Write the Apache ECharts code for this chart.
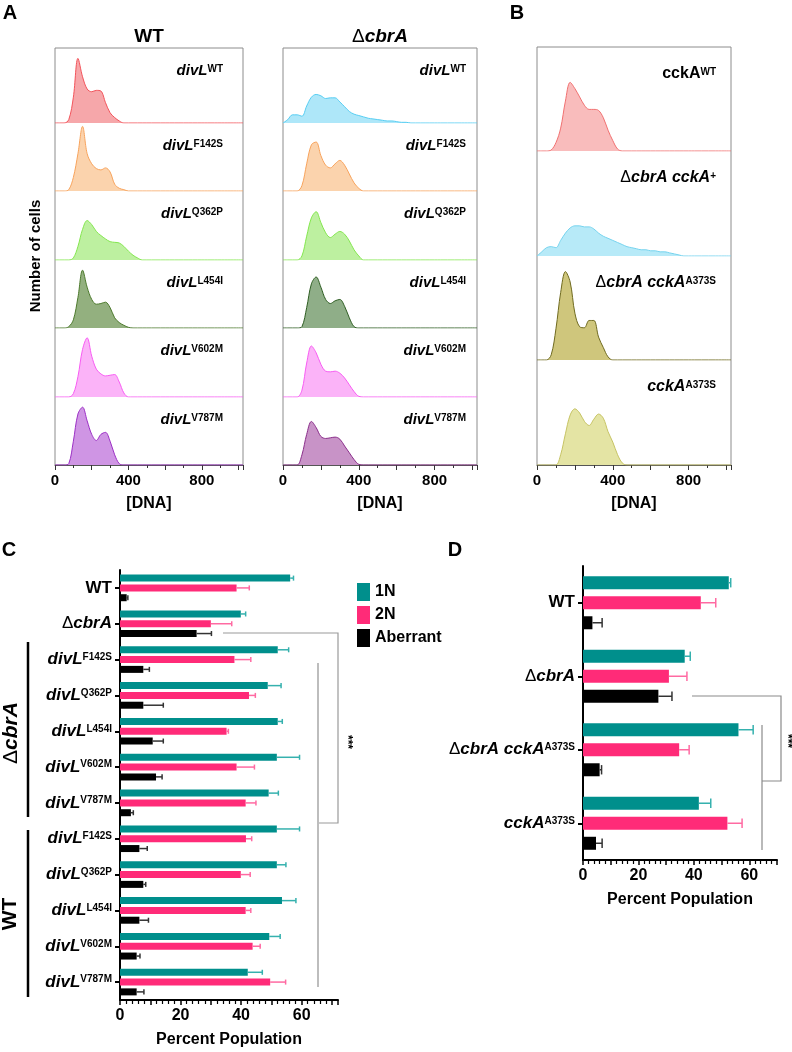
<!DOCTYPE html>
<html lang="en">
<head>
<meta charset="UTF-8">
<script src="https://cdn.jsdelivr.net/npm/echarts@6/dist/echarts.min.js"></script>
<style>
  body { margin: 0; background: #fff; }
  #chart { width: 792px; height: 1052px; }
</style>
</head>
<body>
<div id="chart"></div>
<script>
// ---------- flow cytometry histograms (relative cell counts, % of row height) ----------
const dnaBins = [0,25,50,75,100,125,150,175,200,225,250,275,300,325,350,375,400,425,450,475,500,525,550,575,600,625,650,675,700,725,750,775,800,1024];

// panel A, WT background
const wtDivWT   = [0,0,0,5,38,95,68,50,46,48, 47,30,15,8,3,0,0,0,0,0, 0,0,0,0,0,0,0,0,0,0, 0,0,0,0];
const wtF142S   = [0,0,0,2,20,55,95,55,40,33, 31,34,28,10,4,2,0,0,0,0, 0,0,0,0,0,0,0,0,0,0, 0,0,0,0];
const wtQ362P   = [0,0,0,0,3,20,45,58,52,42, 36,31,27,26,25,20,13,7,3,0, 0,0,0,0,0,0,0,0,0,0, 0,0,0,0];
const wtL454I   = [0,0,0,2,12,45,85,60,42,35, 36,38,30,15,8,4,1,0,0,0, 0,0,0,0,0,0,0,0,0,0, 0,0,0,0];
const wtV602M   = [0,0,0,0,5,30,70,87,60,41, 34,31,32,33,22,6,0,0,0,0, 0,0,0,0,0,0,0,0,0,0, 0,0,0,0];
const wtV787M   = [0,0,0,2,35,75,85,65,45,36, 45,48,35,15,2,0,0,0,0,0, 0,0,0,0,0,0,0,0,0,0, 0,0,0,0];

// panel A, ΔcbrA background
const dDivWT    = [0,5,12,12,10,25,38,42,40,36, 37,37,31,24,17,13,11,9,7,6, 5,4,3,3,2,1,1,0,0,0, 0,0,0,0];
const dF142S    = [0,0,0,0,8,40,68,72,52,38, 34,40,45,38,25,12,4,0,0,0, 0,0,0,0,0,0,0,0,0,0, 0,0,0,0];
const dQ362P    = [0,0,0,0,6,35,62,71,55,40, 33,38,42,38,28,15,6,0,0,0, 0,0,0,0,0,0,0,0,0,0, 0,0,0,0];
const dL454I    = [0,0,0,0,2,30,65,75,60,42, 36,40,42,32,15,2,0,0,0,0, 0,0,0,0,0,0,0,0,0,0, 0,0,0,0];
const dV602M    = [0,0,0,0,10,50,75,65,48,38, 37,38,35,28,18,8,1,0,0,0, 0,0,0,0,0,0,0,0,0,0, 0,0,0,0];
const dV787M    = [0,0,0,0,15,45,64,55,42,39, 40,41,38,28,18,8,1,0,0,0, 0,0,0,0,0,0,0,0,0,0, 0,0,0,0];

// panel B
const bCckWT       = [0,0,0,1,8,22,48,66,60,52, 44,40,40,39,32,20,10,2,0,0, 0,0,0,0,0,0,0,0,0,0, 0,0,0,0];
const bDeltaPlus   = [0,4,8,9,8,15,22,27,29,29, 28,28,26,22,19,17,15,13,11,9, 8,7,6,6,5,5,4,4,3,2, 1,0,0,0];
const bDeltaA373S  = [0,0,0,5,30,65,85,75,45,32, 31,38,38,22,12,3,0,0,0,0, 0,0,0,0,0,0,0,0,0,0, 0,0,0,0];
const bA373S       = [0,0,0,0,0,10,30,48,54,50, 42,38,44,49,45,32,22,10,2,0, 0,0,0,0,0,0,0,0,0,0, 0,0,0,0];

const histLabelsA = ['divL^WT', 'divL^F142S', 'divL^Q362P', 'divL^L454I', 'divL^V602M', 'divL^V787M'];
const histLabelsB = ['cckA^WT', 'ΔcbrA cckA^+', 'ΔcbrA cckA^A373S', 'cckA^A373S'];
const dnaTicks = [0, 400, 800];

// ---------- panel C ----------
const cCategories = ['WT', 'ΔcbrA',
  'ΔcbrA divL^F142S', 'ΔcbrA divL^Q362P', 'ΔcbrA divL^L454I', 'ΔcbrA divL^V602M', 'ΔcbrA divL^V787M',
  'WT divL^F142S', 'WT divL^Q362P', 'WT divL^L454I', 'WT divL^V602M', 'WT divL^V787M'];
const c1N      = [56.2, 39.9, 52.1, 48.8, 52.1, 51.8, 49.1, 51.8, 51.8, 53.5, 49.3, 42.2];
const c1NErr   = [1.1, 1.6, 3.6, 4.4, 1.5, 7.5, 3.2, 7.5, 3.0, 4.6, 3.6, 4.8];
const c2N      = [38.5, 30.0, 37.8, 42.6, 35.2, 38.5, 41.5, 41.6, 39.9, 41.5, 43.8, 49.6];
const c2NErr   = [4.2, 6.9, 5.4, 2.1, 0.6, 5.9, 3.4, 1.9, 3.1, 1.7, 2.5, 5.1];
const cAb      = [2.2, 25.3, 7.7, 7.7, 10.8, 11.9, 3.6, 6.4, 7.7, 6.4, 5.5, 5.5];
const cAbErr   = [0.4, 4.9, 2.0, 6.6, 3.5, 2.0, 0.8, 2.6, 0.8, 3.0, 1.1, 2.4];

// ---------- panel D ----------
const dCategories = ['WT', 'ΔcbrA', 'ΔcbrA cckA^A373S', 'cckA^A373S'];
const d1N      = [52.6, 36.7, 56.1, 41.8];
const d1NErr   = [0.7, 2.0, 5.3, 4.3];
const d2N      = [42.5, 31.0, 34.7, 52.1];
const d2NErr   = [5.4, 6.5, 3.6, 5.3];
const dAb      = [3.4, 27.2, 6.0, 4.7];
const dAbErr   = [3.5, 4.9, 0.7, 2.2];

const FONT = 'Liberation Sans, Arial, Helvetica, sans-serif';
const TEAL = '#008f8c', PINK = '#ff2b78', BLACK = '#000';
const ERR_COLORS = ['#35b1ae', '#ff6aa2', '#333'];

function richStyles(size, sup) {
  return {
    b: { fontFamily: FONT, fontSize: size, fontWeight: 'bold', color: '#000', lineHeight: size + 4 },
    i: { fontFamily: FONT, fontSize: size, fontWeight: 'bold', fontStyle: 'italic', color: '#000', lineHeight: size + 4 },
    d: { fontFamily: FONT, fontSize: size, color: '#000', lineHeight: size + 4 },
    s: { fontFamily: FONT, fontSize: sup, fontWeight: 'bold', color: '#000', verticalAlign: 'top', padding: [3, 0, 0, 0] }
  };
}

// 'divL^F142S' -> rich text with italic gene name and superscript allele
function richLabel(s, upright) {
  const parts = s.split('^');
  let main = parts[0], out = '';
  if (main === 'WT') out = '{b|WT}';
  else {
    if (main[0] === 'Δ') { out += '{d|Δ}'; main = main.slice(1); }
    out += (upright ? '{b|' : '{i|') + main + '}';
  }
  if (parts[1]) out += '{s|' + parts[1] + '}';
  return out;
}

const histPanels = [
  { left: 55, width: 188, bounds: [48, 123, 191, 260, 328, 397, 465], rowH: 68,
    labelX: 223, labelDy: 23, labelSize: 15, labels: histLabelsA, upright: [],
    data: [wtDivWT, wtF142S, wtQ362P, wtL454I, wtV602M, wtV787M],
    lines: ['#f2545b', '#f7a35c', '#83e64e', '#4d7a2d', '#f75cf2', '#9b2fc4'],
    fills: ['#f6a7aa', '#fbd3ad', '#bdf0a0', '#93b07f', '#fbb3f8', '#cf95e4'] },
  { left: 283, width: 194, bounds: [48, 123, 191, 260, 328, 397, 465], rowH: 68,
    labelX: 466, labelDy: 23, labelSize: 15, labels: histLabelsA, upright: [],
    data: [dDivWT, dF142S, dQ362P, dL454I, dV602M, dV787M],
    lines: ['#56cdf2', '#f7a35c', '#83e64e', '#2f5e23', '#f75cf2', '#8a2e8a'],
    fills: ['#aee7f9', '#fbd3ad', '#bdf0a0', '#8fae88', '#fbb3f8', '#c893c7'] },
  { left: 537, width: 194, bounds: [47, 151, 256, 360, 465], rowH: 104,
    labelX: 716, labelDy: 27, labelSize: 16, labels: histLabelsB, upright: [true, false, false, false],
    data: [bCckWT, bDeltaPlus, bDeltaA373S, bA373S],
    lines: ['#f07070', '#76d3ee', '#6f6a1f', '#c6c364'],
    fills: ['#f9bcbc', '#b7eaf8', '#cfc67c', '#e4e4a4'] }
];

const grids = [], xAxes = [], yAxes = [], series = [], graphics = [];

histPanels.forEach(p => {
  const g = grids.length;
  const top = p.bounds[0], bottom = p.bounds[p.bounds.length - 1];
  grids.push({ left: p.left, top: top, width: p.width, height: bottom - top, show: true,
    borderColor: '#8c8c8c', borderWidth: 1, outerBoundsMode: 'none' });
  xAxes.push({ gridIndex: g, type: 'value', min: 0, max: 1024, interval: 200,
    axisLine: { show: true, lineStyle: { color: '#555', width: 1 } },
    axisTick: { show: true, length: 5, lineStyle: { color: '#333' } },
    minorTick: { show: true, splitNumber: 2, length: 3, lineStyle: { color: '#333' } },
    splitLine: { show: false },
    axisLabel: { formatter: v => dnaTicks.includes(v) ? String(v) : '', fontFamily: FONT,
      fontSize: 15, fontWeight: 'bold', color: '#000', margin: 8 },
    name: '[DNA]', nameLocation: 'middle', nameGap: 31,
    nameTextStyle: { fontFamily: FONT, fontSize: 16, fontWeight: 'bold', color: '#000' } });
  yAxes.push({ gridIndex: g, type: 'value', show: false });

  p.data.forEach((vals, r) => {
    const gi = grids.length;
    const rowBottom = p.bounds[r + 1];
    grids.push({ left: p.left, top: rowBottom - p.rowH, width: p.width, height: p.rowH, show: false, outerBoundsMode: 'none' });
    xAxes.push({ gridIndex: gi, type: 'value', min: 0, max: 1024, show: false });
    yAxes.push({ gridIndex: gi, type: 'value', min: 0, max: 100, show: false });
    series.push({ type: 'line', xAxisIndex: gi, yAxisIndex: gi, silent: true,
      data: dnaBins.map((x, i) => [x, vals[i]]), smooth: 0.35, symbol: 'none',
      lineStyle: { color: p.lines[r], width: 1 },
      areaStyle: { color: p.fills[r], opacity: 1 } });
    graphics.push({ type: 'text', x: p.labelX, y: p.bounds[r] + p.labelDy,
      style: { text: richLabel(p.labels[r], p.upright[r]), rich: richStyles(p.labelSize, 10),
        align: 'right', verticalAlign: 'middle' } });
  });
});

// bar chart panels
function barPanel(cfg) {
  const g = grids.length;
  grids.push({ left: cfg.left, top: cfg.top, width: cfg.width, height: cfg.height, show: false, outerBoundsMode: 'none' });
  xAxes.push({ gridIndex: g, type: 'value', min: 0, max: cfg.max, interval: 10,
    axisLine: { show: true, lineStyle: { color: '#000', width: 2 } },
    axisTick: { show: true, length: 5, lineStyle: { color: '#000', width: 1.5 } },
    minorTick: { show: true, splitNumber: 5, length: 4, lineStyle: { color: '#000', width: 1.2 } },
    splitLine: { show: false },
    axisLabel: { formatter: v => (v % 20 === 0 ? String(v) : ''), fontFamily: FONT, fontSize: 16,
      fontWeight: 'bold', color: '#000', margin: 8 },
    name: 'Percent Population', nameLocation: 'middle', nameGap: 32,
    nameTextStyle: { fontFamily: FONT, fontSize: 16, fontWeight: 'bold', color: '#000' } });
  yAxes.push({ gridIndex: g, type: 'category', data: cfg.categories, inverse: true,
    axisLine: { show: true, lineStyle: { color: '#000', width: 2 } },
    axisTick: { show: true, alignWithLabel: true, length: 5, lineStyle: { color: '#000', width: 2 } },
    axisLabel: { formatter: s => richLabel(s.includes('divL') ? s.slice(s.indexOf('divL')) : s),
      rich: richStyles(17, 10), margin: 8 } });
  const pitch = cfg.barWidth * (1 + cfg.gap);
  const names = ['1N', '2N', 'Aberrant'], colors = [TEAL, PINK, BLACK];
  cfg.values.forEach((vals, k) => {
    series.push({ type: 'bar', name: names[k], xAxisIndex: g, yAxisIndex: g, data: vals,
      barWidth: cfg.barWidth, barGap: (cfg.gap * 100) + '%', itemStyle: { color: colors[k] }, silent: true });
  });
  cfg.values.forEach((vals, k) => {
    const errs = cfg.errors[k];
    series.push({ type: 'custom', xAxisIndex: g, yAxisIndex: g, silent: true, z: 5,
      encode: { x: 0, y: 1 },
      data: vals.map((v, i) => [v, i, errs[i]]),
      renderItem: (params, api) => {
        const v = api.value(0), i = api.value(1), e = api.value(2);
        const p0 = api.coord([v, i]), p1 = api.coord([v + e, i]);
        const y = p0[1] + (k - 1) * pitch;
        const h = cfg.barWidth * 0.36;
        const st = { stroke: ERR_COLORS[k], lineWidth: 1.5 };
        return { type: 'group', children: [
          { type: 'line', shape: { x1: p0[0], y1: y, x2: p1[0], y2: y }, style: st },
          { type: 'line', shape: { x1: p1[0], y1: y - h, x2: p1[0], y2: y + h }, style: st }
        ] };
      } });
  });
}

barPanel({ left: 120, top: 570, width: 218, height: 430, max: 72, barWidth: 7, gap: 0.4,
  categories: cCategories, values: [c1N, c2N, cAb], errors: [c1NErr, c2NErr, cAbErr] });
barPanel({ left: 583, top: 566, width: 194, height: 294, max: 70, barWidth: 13, gap: 0.54,
  categories: dCategories, values: [d1N, d2N, dAb], errors: [d1NErr, d2NErr, dAbErr] });

function txt(x, y, text, size, opts) {
  return Object.assign({ type: 'text', x: x, y: y,
    style: Object.assign({ text: text, fontFamily: FONT, fontSize: size, fontWeight: 'bold', fill: '#000',
      align: 'center', verticalAlign: 'middle' }, (opts && opts.style) || {}) },
    (opts && opts.el) || {});
}

// panel letters and titles
graphics.push(txt(10, 13, 'A', 20));
graphics.push(txt(517, 13, 'B', 20));
graphics.push(txt(9, 550, 'C', 20));
graphics.push(txt(455, 550, 'D', 20));
graphics.push(txt(149, 37, 'WT', 19));
graphics.push({ type: 'text', x: 380, y: 37,
  style: { text: '{d|Δ}{i|cbrA}', rich: richStyles(19, 10), align: 'center', verticalAlign: 'middle' } });
graphics.push(txt(36, 256, 'Number of cells', 15, { el: { rotation: Math.PI / 2 } }));

// group brackets of panel C
graphics.push({ type: 'line', shape: { x1: 28, y1: 642, x2: 28, y2: 817 }, style: { stroke: '#000', lineWidth: 2.5 } });
graphics.push({ type: 'line', shape: { x1: 28, y1: 830, x2: 28, y2: 997 }, style: { stroke: '#000', lineWidth: 2.5 } });
graphics.push({ type: 'text', x: 11, y: 733, rotation: Math.PI / 2,
  style: { text: '{d|Δ}{i|cbrA}', rich: richStyles(21, 10), align: 'center', verticalAlign: 'middle' } });
graphics.push(txt(10, 914, 'WT', 21, { el: { rotation: Math.PI / 2 } }));

// significance brackets
graphics.push({ type: 'polyline', shape: { points: [[223, 633], [338, 633], [338, 823], [318, 823]] },
  style: { stroke: '#9a9a9a', lineWidth: 1.2, fill: null } });
graphics.push({ type: 'line', shape: { x1: 318, y1: 663, x2: 318, y2: 987 }, style: { stroke: '#bdbdbd', lineWidth: 2 } });
graphics.push(txt(347, 742, '***', 12, { el: { rotation: -Math.PI / 2 } }));
graphics.push({ type: 'polyline', shape: { points: [[692, 696], [781, 696], [781, 781], [762, 781]] },
  style: { stroke: '#8a8a8a', lineWidth: 1.2, fill: null } });
graphics.push({ type: 'line', shape: { x1: 762, y1: 725, x2: 762, y2: 850 }, style: { stroke: '#8a8a8a', lineWidth: 1.2 } });
graphics.push(txt(787, 741, '***', 12, { el: { rotation: -Math.PI / 2 } }));

const chart = echarts.init(document.getElementById('chart'), null, { renderer: 'canvas' });
chart.setOption({
  animation: false,
  backgroundColor: '#fff',
  textStyle: { fontFamily: FONT },
  grid: grids,
  xAxis: xAxes,
  yAxis: yAxes,
  legend: { data: ['1N', '2N', 'Aberrant'], left: 352, top: 578, orient: 'vertical', icon: 'rect',
    itemWidth: 13, itemHeight: 18, itemGap: 5, selectedMode: false,
    textStyle: { fontFamily: FONT, fontSize: 16, fontWeight: 'bold', color: '#000' } },
  series: series,
  graphic: graphics
});
</script>
</body>
</html>
